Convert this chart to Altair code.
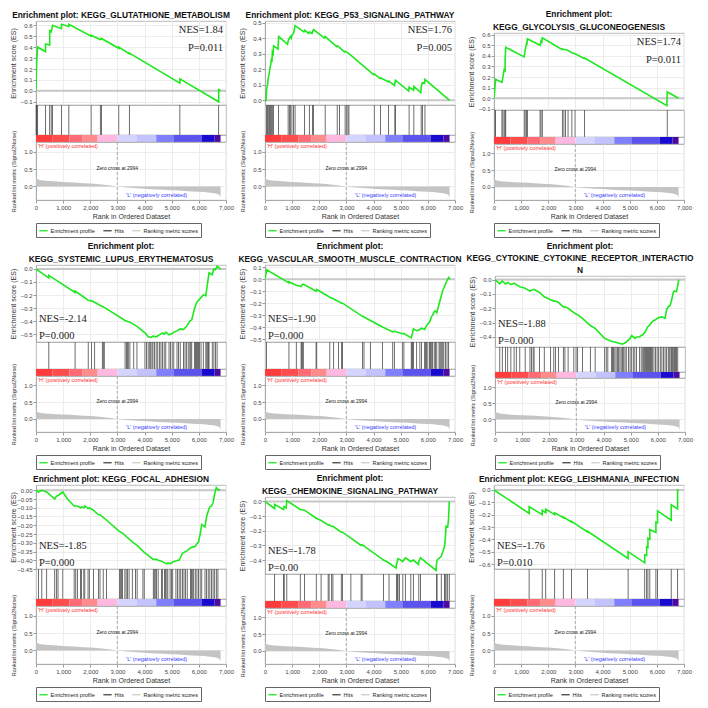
import altair as alt
import pandas as pd

# ---------------- data ----------------
TITLES = [
    ["Enrichment plot: KEGG_GLUTATHIONE_METABOLISM"],
    ["Enrichment plot: KEGG_P53_SIGNALING_PATHWAY"],
    ["Enrichment plot:", "KEGG_GLYCOLYSIS_GLUCONEOGENESIS"],
    ["Enrichment plot:", "KEGG_SYSTEMIC_LUPUS_ERYTHEMATOSUS"],
    ["Enrichment plot:", "KEGG_VASCULAR_SMOOTH_MUSCLE_CONTRACTION"],
    ["Enrichment plot:", "KEGG_CYTOKINE_CYTOKINE_RECEPTOR_INTERACTIO", "N"],
    ["Enrichment plot: KEGG_FOCAL_ADHESION"],
    ["Enrichment plot:", "KEGG_CHEMOKINE_SIGNALING_PATHWAY"],
    ["Enrichment plot: KEGG_LEISHMANIA_INFECTION"],
]
NES = ["NES=1.84", "NES=1.76", "NES=1.74", "NES=-2.14", "NES=-1.90",
       "NES=-1.88", "NES=-1.85", "NES=-1.78", "NES=-1.76"]
PVAL = ["P=0.011", "P=0.005", "P=0.011", "P=0.000", "P=0.000",
        "P=0.000", "P=0.000", "P=0.00", "P=0.010"]

ES_1 = [(0, 0.0), (10, 0.15), (30, 0.28), (60, 0.40), (350, 0.36), (350, 0.43), (505, 0.42), (505, 0.55),
        (560, 0.54), (610, 0.60), (940, 0.57), (940, 0.61), (1210, 0.59), (1210, 0.61), (2030, 0.50),
        (2030, 0.51), (2370, 0.47), (2410, 0.475), (2410, 0.48), (3050, 0.39), (3050, 0.40), (3440, 0.34),
        (3440, 0.345), (5300, 0.07), (5300, 0.11), (6730, -0.10), (6730, 0.01), (6800, 0.0)]
HITS_1 = [5, 20, 35, 60, 350, 505, 560, 610, 940, 1210, 2030, 2370, 2410, 3050, 3440, 5300, 6730]

ES_2 = [(0, 0.0), (40, 0.0), (58, 0.07), (93, 0.10), (117, 0.14), (152, 0.17), (175, 0.20), (210, 0.23),
        (233, 0.26), (260, 0.255), (270, 0.31), (300, 0.30), (315, 0.35), (480, 0.33), (502, 0.41),
        (830, 0.36), (852, 0.38), (898, 0.40), (933, 0.41), (970, 0.40), (992, 0.42), (1050, 0.43),
        (1108, 0.48), (1430, 0.44), (1459, 0.45), (1610, 0.43), (1634, 0.44), (1730, 0.43), (1750, 0.44),
        (1785, 0.455), (2190, 0.40), (2217, 0.41), (2640, 0.345), (2660, 0.35), (2742, 0.34), (2930, 0.31),
        (2952, 0.315), (3010, 0.31), (3057, 0.305), (3092, 0.30), (4000, 0.165), (4026, 0.17), (4240, 0.14),
        (4259, 0.145), (4530, 0.12), (4551, 0.125), (4770, 0.095), (4784, 0.11), (4807, 0.13), (5290, 0.06),
        (5309, 0.085), (5470, 0.065), (5484, 0.09), (5740, 0.05), (5753, 0.085), (5799, 0.115), (5880, 0.11),
        (5893, 0.135), (6800, 0.0)]
HITS_2 = [58, 93, 117, 152, 175, 210, 233, 270, 315, 502, 852, 898, 933, 992, 1050, 1108, 1459, 1634,
          1750, 1785, 2217, 2660, 2742, 2952, 3010, 3057, 3092, 4026, 4259, 4551, 4784, 4807, 5309, 5484,
          5753, 5799, 5893]

ES_3 = [(0, 0.0), (35, 0.10), (59, 0.18), (293, 0.15), (328, 0.20), (375, 0.27), (410, 0.26), (410, 0.37),
        (433, 0.48), (1112, 0.39), (1147, 0.45), (1194, 0.51), (1210, 0.50), (1229, 0.56), (1698, 0.50),
        (1733, 0.54), (1760, 0.53), (1780, 0.57), (2500, 0.46), (2518, 0.465), (2576, 0.46), (2635, 0.46),
        (2728, 0.45), (2869, 0.43), (2986, 0.42), (3320, 0.375), (3337, 0.38), (6370, -0.07), (6382, 0.06),
        (6800, 0.0)]
HITS_3 = [35, 59, 293, 328, 375, 410, 433, 1112, 1147, 1194, 1229, 1698, 1733, 1780, 2518, 2576, 2635,
          2728, 2869, 2986, 3337, 6382]

ES_4 = [(0, 0.0), (472, -0.07), (472, -0.05), (1440, -0.18), (1440, -0.17), (1924, -0.24), (2042, -0.245),
        (2161, -0.255), (2444, -0.29), (2479, -0.29), (2515, -0.295), (3282, -0.395), (3400, -0.405),
        (3459, -0.408), (3601, -0.425), (3719, -0.44), (4014, -0.49), (4132, -0.52), (4227, -0.525),
        (4309, -0.515), (4427, -0.52), (4545, -0.505), (4663, -0.49), (4723, -0.50), (4782, -0.485),
        (4900, -0.505), (5018, -0.495), (5077, -0.485), (5195, -0.475), (5313, -0.46), (5431, -0.465),
        (5549, -0.44), (5667, -0.40), (5738, -0.39), (5844, -0.30), (5915, -0.26), (5986, -0.24),
        (6080, -0.22), (6163, -0.20), (6257, -0.205), (6293, -0.15), (6328, -0.10), (6375, -0.03),
        (6493, -0.045), (6553, 0.0), (6612, -0.005), (6671, 0.02), (6800, 0.0)]
HITS_4 = [472, 1440, 1924, 2042, 2161, 2444, 2479, 2515, 3282, 3329, 3365, 3400, 3459, 3601, 3719, 4014,
          4073, 4132, 4191, 4227, 4274, 4309, 4368, 4427, 4486, 4545, 4604, 4663, 4723, 4782, 4900, 4959,
          5018, 5077, 5195, 5254, 5313, 5431, 5490, 5549, 5608, 5667, 5702, 5738, 5844, 5880, 5915, 5950,
          5986, 6021, 6080, 6163, 6257, 6293, 6328, 6352, 6375, 6493, 6553, 6612, 6671]

ES_5 = [(0, 0.0), (59, 0.08), (882, -0.03), (882, -0.02), (1153, -0.05), (1329, -0.06), (1353, -0.05),
        (1376, -0.045), (1412, -0.04), (1882, -0.10), (1906, -0.085), (2388, -0.15), (2529, -0.165),
        (2706, -0.185), (2824, -0.20), (2859, -0.20), (3588, -0.31), (3647, -0.315), (3882, -0.345),
        (4329, -0.40), (4706, -0.44), (4765, -0.435), (5059, -0.455), (5118, -0.455), (5388, -0.49),
        (5412, -0.47), (5435, -0.45), (5471, -0.415), (5588, -0.43), (5706, -0.42), (5765, -0.41),
        (5882, -0.42), (5918, -0.40), (5953, -0.39), (6000, -0.37), (6059, -0.36), (6094, -0.34),
        (6141, -0.31), (6176, -0.30), (6235, -0.27), (6282, -0.265), (6329, -0.28), (6412, -0.21),
        (6447, -0.18), (6482, -0.15), (6518, -0.12), (6553, -0.09), (6588, -0.075), (6647, -0.04),
        (6706, -0.01), (6765, 0.015), (6820, 0.0)]
HITS_5 = [59, 882, 1153, 1329, 1353, 1376, 1412, 1882, 1906, 2388, 2529, 2706, 2824, 2859, 3588, 3647,
          3882, 4329, 4706, 4765, 5059, 5118, 5388, 5412, 5435, 5471, 5588, 5706, 5765, 5882, 5918, 5953,
          6000, 6059, 6094, 6141, 6176, 6235, 6282, 6329, 6412, 6447, 6482, 6518, 6553, 6588, 6647, 6706,
          6765]

ES_6 = [(0, 0.0), (176, -0.03), (269, -0.01), (386, -0.03), (468, -0.02), (585, -0.035), (703, -0.025),
        (785, -0.035), (913, -0.05), (1112, -0.06), (1288, -0.08), (1347, -0.075), (1405, -0.07),
        (1440, -0.068), (1639, -0.09), (1815, -0.12), (2049, -0.14), (2166, -0.15), (2225, -0.15),
        (2342, -0.16), (2518, -0.19), (2576, -0.19), (2693, -0.20), (2904, -0.23), (2986, -0.24),
        (3044, -0.245), (3220, -0.27), (3513, -0.32), (3689, -0.34), (4040, -0.41), (4157, -0.42),
        (4297, -0.43), (4415, -0.435), (4508, -0.44), (4602, -0.445), (4696, -0.45), (4789, -0.44),
        (4836, -0.435), (4918, -0.42), (4977, -0.41), (5035, -0.39), (5094, -0.40), (5152, -0.41),
        (5211, -0.40), (5328, -0.40), (5386, -0.39), (5445, -0.385), (5550, -0.36), (5621, -0.33),
        (5691, -0.32), (5761, -0.30), (5855, -0.285), (5913, -0.28), (5972, -0.27), (6030, -0.265),
        (6148, -0.26), (6265, -0.27), (6323, -0.21), (6382, -0.19), (6452, -0.18), (6499, -0.15),
        (6569, -0.09), (6616, -0.08), (6686, -0.085), (6733, -0.04), (6770, 0.0)]
HITS_6 = [176, 269, 386, 468, 585, 703, 785, 913, 1112, 1288, 1347, 1405, 1440, 1639, 1815, 2049, 2166,
          2225, 2342, 2518, 2576, 2693, 2904, 2986, 3044, 3220, 3513, 3689, 4040, 4098, 4157, 4297, 4333,
          4368, 4415, 4461, 4508, 4555, 4602, 4649, 4696, 4742, 4789, 4836, 4918, 4977, 5035, 5094, 5152,
          5211, 5328, 5386, 5445, 5480, 5515, 5550, 5585, 5621, 5656, 5691, 5726, 5761, 5796, 5855, 5913,
          5972, 6030, 6089, 6148, 6206, 6265, 6323, 6382, 6417, 6452, 6499, 6534, 6569, 6616, 6651, 6686,
          6733]

ES_7 = [(0, 0.0), (95, -0.01), (214, 0.0), (393, -0.01), (690, -0.05), (750, -0.035), (810, -0.03),
        (988, -0.01), (1160, -0.05), (1405, -0.09), (1464, -0.09), (1524, -0.09), (1643, -0.10),
        (1679, -0.095), (1762, -0.10), (1798, -0.09), (1917, -0.105), (1964, -0.10), (2119, -0.115),
        (2298, -0.14), (2357, -0.14), (2476, -0.155), (2595, -0.17), (3071, -0.235), (3190, -0.245),
        (3369, -0.27), (3548, -0.295), (3726, -0.315), (3988, -0.355), (4321, -0.395), (4440, -0.395),
        (4500, -0.40), (4619, -0.405), (4738, -0.415), (4821, -0.42), (4857, -0.415), (4940, -0.42),
        (5036, -0.41), (5155, -0.405), (5214, -0.40), (5274, -0.40), (5333, -0.38), (5393, -0.36),
        (5452, -0.355), (5571, -0.345), (5690, -0.33), (5774, -0.325), (5869, -0.32), (5929, -0.305),
        (5988, -0.295), (6048, -0.25), (6107, -0.195), (6226, -0.21), (6286, -0.15), (6345, -0.12),
        (6405, -0.095), (6464, -0.09), (6524, -0.07), (6583, -0.02), (6643, 0.015), (6702, 0.005),
        (6790, 0.0)]
HITS_7 = [95, 214, 393, 690, 750, 810, 988, 1405, 1464, 1524, 1643, 1679, 1762, 1798, 1917, 1964, 2119,
          2298, 2357, 2476, 2595, 3071, 3107, 3155, 3190, 3274, 3321, 3369, 3429, 3548, 3667, 3726, 3940,
          3988, 4321, 4357, 4393, 4440, 4500, 4619, 4655, 4738, 4774, 4821, 4857, 4940, 4988, 5036, 5155,
          5214, 5274, 5333, 5393, 5452, 5512, 5571, 5690, 5726, 5774, 5810, 5869, 5929, 5988, 6048, 6107,
          6226, 6286, 6345, 6405, 6464, 6524, 6583, 6643, 6702]

ES_8 = [(0, 0.0), (354, -0.05), (354, -0.02), (685, -0.055), (708, -0.035), (780, -0.045), (803, 0.005),
        (1299, -0.055), (1452, -0.06), (1889, -0.115), (2066, -0.13), (2326, -0.16), (2361, -0.16),
        (2456, -0.17), (2503, -0.17), (2810, -0.21), (2857, -0.21), (3164, -0.25), (3542, -0.30),
        (3577, -0.295), (4368, -0.40), (4569, -0.42), (4830, -0.455), (4841, -0.43), (4876, -0.41),
        (4900, -0.39), (4959, -0.395), (5077, -0.41), (5171, -0.385), (5372, -0.41), (5466, -0.40),
        (5655, -0.43), (5667, -0.41), (5726, -0.385), (6305, -0.47), (6316, -0.43), (6340, -0.40),
        (6494, -0.375), (6612, -0.31), (6635, -0.27), (6671, -0.17), (6730, -0.175), (6760, -0.13),
        (6789, 0.0)]
HITS_8 = [354, 685, 708, 803, 1299, 1452, 1889, 2066, 2326, 2361, 2456, 2503, 2810, 2857, 3164, 3542,
          3577, 4368, 4569, 4841, 4876, 4900, 4959, 5077, 5171, 5372, 5466, 5667, 5726, 6316, 6340, 6494,
          6612, 6635, 6671, 6730, 6789]

ES_9 = [(0, 0.0), (1294, -0.19), (1294, -0.135), (1776, -0.20), (1776, -0.165), (1906, -0.185),
        (1906, -0.155), (2235, -0.20), (2235, -0.185), (2553, -0.225), (2553, -0.22), (2859, -0.26),
        (2859, -0.255), (3447, -0.34), (3447, -0.335), (4941, -0.555), (4941, -0.50), (5553, -0.59),
        (5553, -0.525), (5624, -0.53), (5624, -0.46), (5671, -0.465), (5671, -0.39), (5741, -0.40),
        (5741, -0.32), (5965, -0.345), (5965, -0.26), (6024, -0.265), (6024, -0.17), (6529, -0.245),
        (6529, -0.12), (6765, -0.155), (6765, 0.0), (6800, 0.0)]
HITS_9 = [1294, 1776, 1906, 2235, 2553, 2859, 3447, 4941, 5553, 5624, 5671, 5741, 5965, 6024, 6529, 6765]

YDOM = [[-0.13, 0.64], [-0.03, 0.51], [-0.11, 0.615], [-0.56, 0.03], [-0.525, 0.12],
        [-0.47, 0.025], [-0.45, 0.03], [-0.495, 0.03], [-0.64, 0.04]]
YTICKS = [
    [-0.1, 0.0, 0.1, 0.2, 0.3, 0.4, 0.5, 0.6],
    [0.0, 0.1, 0.2, 0.3, 0.4, 0.5],
    [-0.1, 0.0, 0.1, 0.2, 0.3, 0.4, 0.5, 0.6],
    [-0.5, -0.4, -0.3, -0.2, -0.1, 0.0],
    [-0.5, -0.4, -0.3, -0.2, -0.1, 0.0, 0.1],
    [-0.4, -0.3, -0.2, -0.1, 0.0],
    [-0.45, -0.40, -0.35, -0.30, -0.25, -0.20, -0.15, -0.10, -0.05, 0.0],
    [-0.4, -0.3, -0.2, -0.1, 0.0],
    [-0.6, -0.5, -0.4, -0.3, -0.2, -0.1, 0.0],
]
YFMT = [".1f", ".1f", ".1f", ".1f", ".1f", ".1f", ".2f", ".1f", ".1f"]

ES_ALL = [ES_1, ES_2, ES_3, ES_4, ES_5, ES_6, ES_7, ES_8, ES_9]
HITS_ALL = [HITS_1, HITS_2, HITS_3, HITS_4, HITS_5, HITS_6, HITS_7, HITS_8, HITS_9]

# ranked list metric (shared by all panels)
METRIC_RANK = [0, 15, 60, 200, 500, 1000, 1500, 2000, 2500, 2994, 3500, 4000, 4500, 5000, 5500, 6000,
               6400, 6650, 6760, 6800]
METRIC_VAL = [0.33, 0.26, 0.21, 0.18, 0.155, 0.13, 0.11, 0.085, 0.05, 0.0, -0.04, -0.065, -0.09, -0.11,
              -0.13, -0.155, -0.18, -0.21, -0.25, -0.33]
METRIC_TICKS = [0.0, 0.5, 1.0]
ZERO_CROSS = 2994

# red-to-blue rank colour bar
BAR_START = [0, 600, 1230, 1700, 2270, 3000, 3700, 4430, 5060, 6110, 6580]
BAR_END = [600, 1230, 1700, 2270, 3000, 3700, 4430, 5060, 6110, 6580, 6800]
BAR_COLORS = ["#ff3b3b", "#ff4d4d", "#ff6a74", "#ff8c8c", "#ffb8e0", "#d4d4ff", "#c2c2ff",
              "#8080ff", "#5c52ee", "#1a0ad0", "#4b0aa0"]

XTICKS = [0, 1000, 2000, 3000, 4000, 5000, 6000, 7000]
LEGEND_LABELS = ["Enrichment profile", "Hits", "Ranking metric scores"]
LEGEND_COLORS = ["#1ee81e", "#444444", "#cccccc"]

# ---------------- styling ----------------
FONT = "Liberation Sans"
SERIF = "Liberation Serif"
W = 190
# title height, ES, hits, colour bar, metric
HEIGHTS = {1: (13, 84, 30, 7, 58), 2: (25, 77, 27, 7, 56), 3: (36, 71, 25, 6, 54)}
GRID = "#ececec"
LAB = dict(labelFont=FONT, labelFontSize=6, labelColor="#444", titleFont=FONT, titleFontSize=7,
           titleFontWeight="normal", titleColor="#333", tickColor="#999", tickSize=3,
           domainColor="#aaa", labelPadding=1, titlePadding=2)
NOFRAME = alt.ViewBackground(strokeOpacity=0)


def xscale():
    return alt.Scale(domain=[0, 7000], nice=False, zero=False)


def panel(i):
    lines = TITLES[i]
    th, esh, hh, bh, mh = HEIGHTS[len(lines)]

    # --- title block ---
    tldf = pd.DataFrame({"line": list(range(len(lines))), "t": lines})
    title = alt.Chart(tldf).mark_text(font=FONT, fontSize=8.4, fontWeight="bold", color="#111",
                                      baseline="middle", align="center").encode(
        x=alt.value(W / 2 - 10), y=alt.Y("line:O", axis=None), text="t:N"
    ).properties(width=W, height=th, view=NOFRAME)

    # --- enrichment score ---
    x_es = alt.X("rank:Q", scale=xscale(),
                 axis=alt.Axis(values=XTICKS, labels=False, ticks=False, domain=False, title=None,
                               grid=True, gridColor=GRID))
    y_es = alt.Y("es:Q", scale=alt.Scale(domain=YDOM[i], nice=False, zero=False),
                 axis=alt.Axis(values=YTICKS[i], format=YFMT[i], title="Enrichment score (ES)",
                               grid=True, gridColor=GRID, minExtent=18, maxExtent=18, labelOverlap=False,
                               **LAB))
    df = pd.DataFrame(ES_ALL[i], columns=["rank", "es"])
    df["i"] = range(len(df))
    df["series"] = LEGEND_LABELS[0]
    line = alt.Chart(df).mark_line(strokeWidth=1.6, clip=True).encode(
        x=x_es, y=y_es, order="i:Q",
        color=alt.Color("series:N", scale=alt.Scale(domain=LEGEND_LABELS, range=LEGEND_COLORS),
                        legend=alt.Legend(orient="bottom", direction="horizontal", title=None,
                                          symbolType="stroke", symbolSize=70, symbolStrokeWidth=1.3,
                                          labelFontSize=5.5, labelFont=FONT, labelColor="#222",
                                          strokeColor="#666", padding=2.5, offset=3,
                                          columnPadding=5, labelOffset=2)),
    )
    zero = alt.Chart(pd.DataFrame({"es": [0.0]})).mark_rule(color="#c8c8c8", strokeWidth=2).encode(y=y_es)
    neg = NES[i].startswith("NES=-")
    tdf = pd.DataFrame({"t": [NES[i]], "p": [PVAL[i]]})
    if neg:
        kw = dict(font=SERIF, fontSize=10.5, align="left", baseline="middle", color="#222")
        t1 = alt.Chart(tdf).mark_text(**kw).encode(x=alt.value(3), y=alt.value(esh - 23), text="t:N")
        t2 = alt.Chart(tdf).mark_text(**kw).encode(x=alt.value(3), y=alt.value(esh - 6), text="p:N")
    else:
        kw = dict(font=SERIF, fontSize=10.5, align="right", baseline="middle", color="#222")
        t1 = alt.Chart(tdf).mark_text(**kw).encode(x=alt.value(W - 3), y=alt.value(9), text="t:N")
        t2 = alt.Chart(tdf).mark_text(**kw).encode(x=alt.value(W - 3), y=alt.value(27), text="p:N")
    es_chart = alt.layer(zero, line, t1, t2).properties(width=W, height=esh)

    # --- hits ---
    hits = alt.Chart(pd.DataFrame({"rank": HITS_ALL[i]})).mark_tick(
        color="#4a4a4a", thickness=0.8, size=hh, opacity=1).encode(
        x=alt.X("rank:Q", scale=xscale(), axis=None)).properties(width=W, height=hh)

    # --- colour bar ---
    bdf = pd.DataFrame({"s": BAR_START, "e": BAR_END, "c": BAR_COLORS})
    bar = alt.Chart(bdf).mark_rect().encode(
        x=alt.X("s:Q", scale=xscale(), axis=None), x2="e:Q",
        color=alt.Color("c:N", scale=None)).properties(width=W, height=bh)

    # --- ranked list metric ---
    x_m = alt.X("rank:Q", scale=xscale(),
                axis=alt.Axis(values=XTICKS, format=",.0f", title="Rank in Ordered Dataset",
                              labelFlush=False, grid=True, gridColor=GRID, labelOverlap=False, **LAB))
    y_m = alt.Y("metric:Q", scale=alt.Scale(domain=[-0.39, 1.28], nice=False, zero=False),
                axis=alt.Axis(values=METRIC_TICKS, format=".1f",
                              title="Ranked list metric (Signal2Noise)",
                              grid=True, gridColor=GRID, minExtent=18, maxExtent=18,
                              **{**LAB, "titleFontSize": 5.5}))
    mdf = pd.DataFrame({"rank": METRIC_RANK, "metric": METRIC_VAL})
    area = alt.Chart(mdf).mark_area(color="#c4c4c4", interpolate="monotone").encode(
        x=x_m, y=y_m, y2=alt.datum(0))
    zdf = pd.DataFrame({"rank": [ZERO_CROSS], "t": [f"Zero cross at {ZERO_CROSS}"]})
    zrule = alt.Chart(zdf).mark_rule(color="#999", strokeDash=[3, 2], strokeWidth=0.8).encode(x=x_m)
    ztext = alt.Chart(zdf).mark_text(font=FONT, fontSize=5, color="#222").encode(
        x=x_m, y=alt.value(mh * 0.45), text="t:N")
    ldf = pd.DataFrame({"h": ["'H' (positively correlated)"], "l": ["'L' (negatively correlated)"]})
    htext = alt.Chart(ldf).mark_text(font=FONT, fontSize=5.5, color="#ff3030", align="left",
                                     baseline="top").encode(x=alt.value(2), y=alt.value(2), text="h:N")
    ltext = alt.Chart(ldf).mark_text(font=FONT, fontSize=5.5, color="#3a3aff", align="center",
                                     baseline="middle").encode(x=alt.value(W * 0.635), y=alt.value(mh - 5),
                                                               text="l:N")
    metric = alt.layer(area, zrule, ztext, htext, ltext).properties(width=W, height=mh)

    return alt.vconcat(title, es_chart, hits, bar, metric, spacing=0, bounds="flush")


rows = []
for r in range(3):
    rows.append(alt.hconcat(*[panel(3 * r + c) for c in range(3)], spacing=3)
                .resolve_scale(color="independent").resolve_legend(color="independent"))

chart = alt.vconcat(*rows, spacing=2).resolve_scale(color="independent").resolve_legend(
    color="independent").properties(padding=0, background="white").configure_view(
    stroke="#aaaaaa", strokeWidth=0.8)

chart.save("out.html", embed_options={"renderer": "svg", "actions": False})
